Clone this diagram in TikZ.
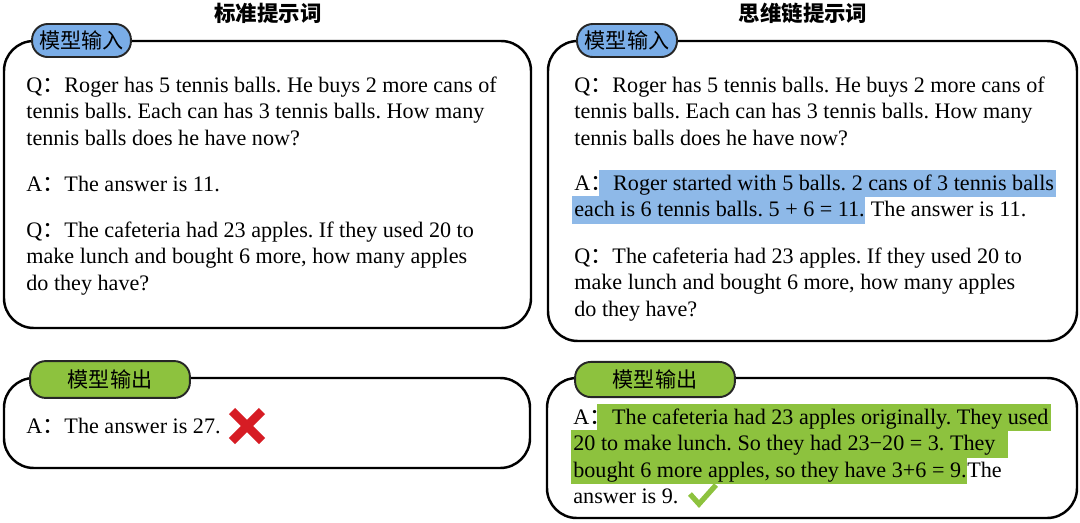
\documentclass[tikz,border=0pt]{standalone}
\usepackage{fontspec}
\setmainfont{Liberation Serif}
\newfontfamily\cjk{Noto Sans CJK SC}
\newcommand{\qcolon}{{\cjk ：}}
\frenchspacing
\usetikzlibrary{backgrounds}

\definecolor{tagblue}{RGB}{122,173,231}
\definecolor{hlblue}{RGB}{142,185,232}
\definecolor{leafgreen}{RGB}{141,194,62}
\definecolor{crossred}{RGB}{214,28,36}

\tikzset{
  panel/.style = {draw = black, line width = 1.4pt, rounded corners = 17pt},
  tagbox/.style = {draw = black!85, line width = 1.1pt, rounded corners = 9pt,
    inner sep = 0, font = \cjk\fontsize{12pt}{14pt}\selectfont},
  title/.style = {inner sep = 0, font = \cjk\bfseries\fontsize{12.2pt}{14pt}\selectfont},
  txt/.style = {anchor = base west, inner sep = 0, text height = 11.2pt,
    text depth = 3.8pt, font = \fontsize{12.6pt}{15pt}\selectfont}
}

\begin{document}
\begin{tikzpicture}[x = 0.02cm, y = -0.02cm]
  \useasboundingbox (0, 0) rectangle (1080, 522);

  % titles
  \node[title] (ltitle) at (268, 13) {标准提示词};
  \node[title] (rtitle) at (803, 13) {思维链提示词};

  % frames
  \draw[panel] (4, 41) rectangle (531, 328);
  \draw[panel] (4, 378) rectangle (530, 468);
  \draw[panel] (548, 41) rectangle (1077, 341);
  \draw[panel] (547, 378) rectangle (1077, 518);

  \node[tagbox, fill = tagblue, minimum width = 56.3pt, minimum height = 18.8pt]
    (lin) at (81.5, 40.5) {模型输入};
  \node[tagbox, fill = tagblue, minimum width = 56.9pt, minimum height = 18.8pt]
    (rin) at (627, 40.5) {模型输入};
  \node[tagbox, fill = leafgreen, minimum width = 91pt, minimum height = 21pt]
    (lout) at (110, 379.5) {模型输出};
  \node[tagbox, fill = leafgreen, minimum width = 91pt, minimum height = 20pt]
    (rout) at (655, 379.5) {模型输出};

  % the question that both prompts share
  \foreach \px/\side in {26/l, 574/r}{
    \node[txt] (\side q1) at (\px, 92) {Q\qcolon Roger has 5 tennis balls. He buys 2 more cans of};
    \node[txt] (\side q2) at (\px, 118.5) {tennis balls. Each can has 3 tennis balls. How many};
    \node[txt] (\side q3) at (\px, 145) {tennis balls does he have now?};
  }

  % standard prompt
  \node[txt] (la1) at (26, 191) {A\qcolon The answer is 11.};
  \node[txt] (lq4) at (26, 237) {Q\qcolon The cafeteria had 23 apples. If they used 20 to};
  \node[txt] (lq5) at (26, 263.5) {make lunch and bought 6 more, how many apples};
  \node[txt] (lq6) at (26, 290) {do they have?};
  \node[txt] (lo1) at (26, 433) {A\qcolon The answer is 27.};
  \draw[line width = 5pt, crossred] (232, 411) -- (262, 441) (262, 411) -- (232, 441);

  % chain of thought prompt
  \node[txt] (ra1) at (574, 190) {A\qcolon};
  \node[txt] (rh1) at (ra1.base east) {Roger started with 5 balls. 2 cans of 3 tennis balls};
  \node[txt] (rh2) at (574, 216.5) {each is 6 tennis balls. 5 + 6 = 11.};
  \node[txt] (ra2) at (rh2.base east) {\ The answer is 11.};
  \node[txt] (rq4) at (574, 263) {Q\qcolon The cafeteria had 23 apples. If they used 20 to};
  \node[txt] (rq5) at (574, 289.5) {make lunch and bought 6 more, how many apples};
  \node[txt] (rq6) at (574, 316) {do they have?};

  \node[txt] (ro1) at (573, 424) {A\qcolon};
  \node[txt] (rg1) at (ro1.base east) {The cafeteria had 23 apples originally. They used};
  \node[txt] (rg2) at (573, 450.5) {20 to make lunch. So they had 23−20 = 3. They};
  \node[txt] (rg3) at (573, 477) {bought 6 more apples, so they have 3+6 = 9.};
  \node[txt] (ro2) at (rg3.base east) {The};
  \node[txt] (ro3) at (573, 503.5) {answer is 9.};
  \draw[line width = 3pt, leafgreen] (690, 494) -- (699, 504) -- (716, 485);

  \begin{scope}[on background layer]
    \fill[hlblue] ([xshift = -8pt]rh1.north west) rectangle ([xshift = 1pt]rh1.south east);
    \fill[hlblue] ([xshift = -1pt]rh2.north west) rectangle (rh2.south east);
    \fill[leafgreen] ([xshift = -8.5pt]rg1.north west) rectangle ([xshift = 1pt]rg1.south east);
    \fill[leafgreen] ([xshift = -1pt]rg2.north west) rectangle ([xshift = 7pt]rg2.south east);
    \fill[leafgreen] ([xshift = -1pt]rg3.north west) rectangle (rg3.south east);
  \end{scope}
\end{tikzpicture}
\end{document}
